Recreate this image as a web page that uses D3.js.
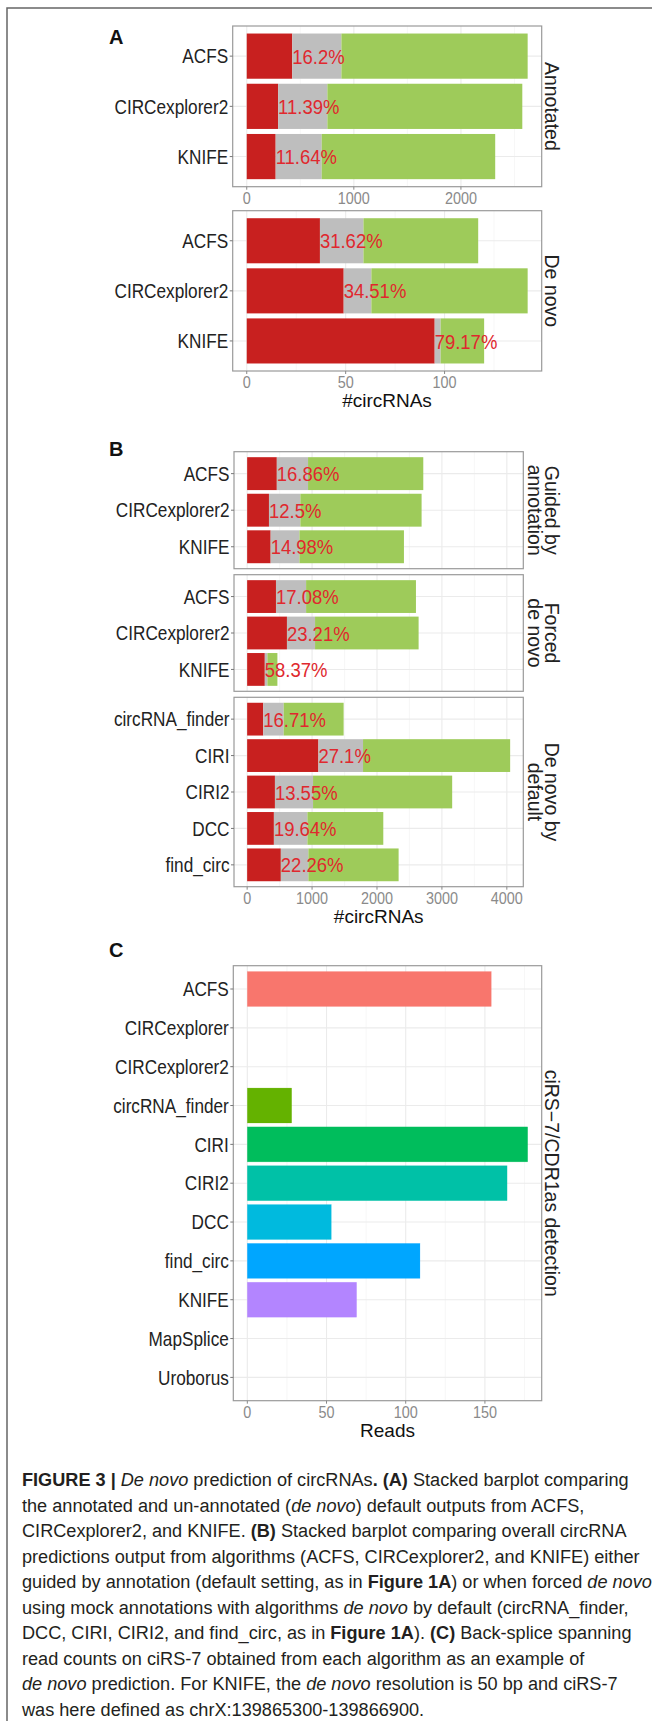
<!DOCTYPE html>
<html>
<head>
<meta charset="utf-8">
<script src="https://cdn.jsdelivr.net/npm/d3@7"></script>
<style>
  body { margin: 0; background: #fff; }
  svg { display: block; font-family: "Liberation Sans", Arial, sans-serif; }
  text { white-space: pre; }
</style>
</head>
<body>
<script>
// ---------- data ----------
const toolsA = ['ACFS', 'CIRCexplorer2', 'KNIFE'];

const annotRed = [425, 293, 270];
const annotGrey = [459, 460, 430];
const annotGreen = [1739, 1820, 1620];
const annotPct = ['16.2%', '11.39%', '11.64%'];

const denovoRed = [37, 49, 95];
const denovoGrey = [22, 14, 3];
const denovoGreen = [58, 79, 22];
const denovoPct = ['31.62%', '34.51%', '79.17%'];

const guidedRed = [457, 336, 362];
const guidedGrey = [481, 484, 443];
const guidedGreen = [1775, 1867, 1610];
const guidedPct = ['16.86%', '12.5%', '14.98%'];

const forcedRed = [444, 613, 272];
const forcedGrey = [464, 433, 40];
const forcedGreen = [1692, 1595, 154];
const forcedPct = ['17.08%', '23.21%', '58.37%'];

const toolsDefault = ['circRNA_finder', 'CIRI', 'CIRI2', 'DCC', 'find_circ'];
const defaultRed = [248, 1098, 428, 412, 519];
const defaultGrey = [315, 687, 587, 516, 424];
const defaultGreen = [923, 2266, 2143, 1169, 1390];
const defaultPct = ['16.71%', '27.1%', '13.55%', '19.64%', '22.26%'];

const toolsC = ['ACFS', 'CIRCexplorer', 'CIRCexplorer2', 'circRNA_finder', 'CIRI', 'CIRI2',
  'DCC', 'find_circ', 'KNIFE', 'MapSplice', 'Uroborus'];
const readsC = [154, 0, 0, 28, 177, 164, 53, 109, 69, 0, 0];

const ticksAnnot = [0, 1000, 2000];
const ticksDenovo = [0, 50, 100];
const ticksB = [0, 1000, 2000, 3000, 4000];
const ticksC = [0, 50, 100, 150];

const captionLines = [
  [['FIGURE 3 | ', 'b'], ['De novo', 'i'], [' prediction of circRNAs', ''], ['. (A)', 'b'], [' Stacked barplot comparing', '']],
  [['the annotated and un-annotated (', ''], ['de novo', 'i'], [') default outputs from ACFS,', '']],
  [['CIRCexplorer2, and KNIFE. ', ''], ['(B)', 'b'], [' Stacked barplot comparing overall circRNA', '']],
  [['predictions output from algorithms (ACFS, CIRCexplorer2, and KNIFE) either', '']],
  [['guided by annotation (default setting, as in ', ''], ['Figure 1A', 'b'], [') or when forced ', ''], ['de novo', 'i']],
  [['using mock annotations with algorithms ', ''], ['de novo', 'i'], [' by default (circRNA_finder,', '']],
  [['DCC, CIRI, CIRI2, and find_circ, as in ', ''], ['Figure 1A', 'b'], ['). ', ''], ['(C)', 'b'], [' Back-splice spanning', '']],
  [['read counts on ciRS-7 obtained from each algorithm as an example of', '']],
  [['de novo', 'i'], [' prediction. For KNIFE, the ', ''], ['de novo', 'i'], [' resolution is 50 bp and ciRS-7', '']],
  [['was here defined as chrX:139865300-139866900.', '']]
];

// ---------- styles ----------
const segColor = { red: '#c8201f', grey: '#bebebe', green: '#9ecb5a' };
const hueColors = ['#F8766D', '#DB8E00', '#AEA200', '#64B200', '#00BD5C', '#00C1A7',
  '#00BADE', '#00A6FF', '#B385FF', '#EF67EB', '#FF63B6'];
const borderColor = '#9a9a9a';

const svg = d3.select('body').append('svg')
  .attr('width', 652)
  .attr('height', 1721);

// outer frame
svg.append('path')
  .attr('d', 'M7,1725 L7,8 L656,8')
  .attr('fill', 'none')
  .attr('stroke', '#666')
  .attr('stroke-width', 1.5);

function makeX(max, left, right) {
  return d3.scaleLinear().domain([-0.05 * max, 1.05 * max]).range([left, right]);
}

function makeY(tools, top, bottom) {
  return d3.scaleBand().domain(tools).range([top, bottom]).paddingInner(0.1).paddingOuter(0.15);
}

function drawGrid(g, x, y, ticks) {
  const [d0, d1] = x.domain();
  const [top, bottom] = y.range();
  const step = ticks[1] - ticks[0];
  const minor = [ticks[0] - step / 2].concat(ticks.map(t => t + step / 2))
    .filter(t => t > d0 && t < d1);
  g.selectAll(null).data(minor).join('line')
    .attr('x1', d => x(d)).attr('x2', d => x(d))
    .attr('y1', top).attr('y2', bottom)
    .attr('stroke', '#f4f4f4').attr('stroke-width', 0.7);
  g.selectAll(null).data(ticks).join('line')
    .attr('x1', d => x(d)).attr('x2', d => x(d))
    .attr('y1', top).attr('y2', bottom)
    .attr('stroke', '#ebebeb').attr('stroke-width', 1.1);
  g.selectAll(null).data(y.domain()).join('line')
    .attr('x1', x.range()[0]).attr('x2', x.range()[1])
    .attr('y1', d => y(d) + y.bandwidth() / 2).attr('y2', d => y(d) + y.bandwidth() / 2)
    .attr('stroke', '#ebebeb').attr('stroke-width', 1.1);
}

function drawYAxis(g, x, y) {
  const left = x.range()[0];
  g.selectAll(null).data(y.domain()).join('line')
    .attr('x1', left - 3).attr('x2', left)
    .attr('y1', d => y(d) + y.bandwidth() / 2).attr('y2', d => y(d) + y.bandwidth() / 2)
    .attr('stroke', '#777').attr('stroke-width', 1);
  g.selectAll(null).data(y.domain()).join('text')
    .attr('transform', d => `translate(${left - 4.5},${y(d) + y.bandwidth() / 2}) scale(0.86,1)`)
    .attr('dy', '0.36em')
    .attr('text-anchor', 'end')
    .attr('font-size', 20)
    .attr('fill', '#222')
    .text(d => d);
}

function drawXAxis(g, x, bottom, ticks) {
  g.selectAll(null).data(ticks).join('line')
    .attr('x1', d => x(d)).attr('x2', d => x(d))
    .attr('y1', bottom).attr('y2', bottom + 3)
    .attr('stroke', '#888').attr('stroke-width', 1);
  g.selectAll(null).data(ticks).join('text')
    .attr('transform', d => `translate(${x(d)},${bottom + 17}) scale(0.9,1)`)
    .attr('text-anchor', 'middle')
    .attr('font-size', 16)
    .attr('fill', '#8a8a8a')
    .text(d => d);
}

function drawBorder(g, x, y) {
  const [l, r] = x.range();
  const [t, b] = y.range();
  g.append('rect')
    .attr('x', l).attr('y', t)
    .attr('width', r - l).attr('height', b - t)
    .attr('fill', 'none')
    .attr('stroke', borderColor)
    .attr('stroke-width', 1.2);
}

function drawStrip(g, lines, baseX, cy) {
  const t = g.append('text')
    .attr('transform', `translate(${baseX},${cy}) rotate(90)`)
    .attr('text-anchor', 'middle')
    .attr('font-size', 19.5)
    .attr('fill', '#222');
  lines.forEach((s, i) => {
    t.append('tspan').attr('x', 0).attr('y', i * 17.5).text(s);
  });
}

function stackFacet(opt) {
  const g = svg.append('g');
  const y = makeY(opt.tools, opt.top, opt.bottom);
  const x = opt.x;
  const rows = opt.tools.map((tool, i) => ({
    tool: tool, red: opt.red[i], grey: opt.grey[i], green: opt.green[i], pct: opt.pct[i]
  }));
  const series = d3.stack().keys(['red', 'grey', 'green'])(rows);

  drawGrid(g, x, y, opt.ticks);

  g.selectAll(null).data(series).join('g')
    .attr('fill', d => segColor[d.key])
    .selectAll('rect').data(d => d).join('rect')
    .attr('x', d => x(d[0]))
    .attr('y', d => y(d.data.tool))
    .attr('width', d => x(d[1]) - x(d[0]))
    .attr('height', y.bandwidth());

  g.selectAll(null).data(rows).join('text')
    .attr('transform', d => `translate(${x(d.red)},${y(d.tool) + y.bandwidth() / 2}) scale(0.88,1)`)
    .attr('dy', '0.36em')
    .attr('font-size', 21)
    .attr('fill', '#e0282e')
    .text(d => d.pct);

  drawBorder(g, x, y);
  drawYAxis(g, x, y);
  if (opt.axis) drawXAxis(g, x, opt.bottom, opt.ticks);
  drawStrip(g, opt.strip, opt.stripX, (opt.top + opt.bottom) / 2);
}

function sum3(a, b, c) { return a.map((v, i) => v + b[i] + c[i]); }

function label(txt, x, yb) {
  svg.append('text')
    .attr('x', x).attr('y', yb)
    .attr('font-size', 20)
    .attr('font-weight', 'bold')
    .attr('fill', '#111')
    .text(txt);
}

function axisTitle(txt, cx, yb) {
  svg.append('text')
    .attr('x', cx).attr('y', yb)
    .attr('text-anchor', 'middle')
    .attr('font-size', 19)
    .attr('fill', '#111')
    .text(txt);
}

// ---------- panel A ----------
label('A', 109, 44);
const xAnnot = makeX(d3.max(sum3(annotRed, annotGrey, annotGreen)), 232.7, 541.7);
stackFacet({
  tools: toolsA, red: annotRed, grey: annotGrey, green: annotGreen, pct: annotPct,
  top: 26, bottom: 186.7, x: xAnnot, ticks: ticksAnnot, axis: true,
  strip: ['Annotated'], stripX: 545
});
const xDenovo = makeX(d3.max(sum3(denovoRed, denovoGrey, denovoGreen)), 232.7, 541.7);
stackFacet({
  tools: toolsA, red: denovoRed, grey: denovoGrey, green: denovoGreen, pct: denovoPct,
  top: 210.7, bottom: 371, x: xDenovo, ticks: ticksDenovo, axis: true,
  strip: ['De novo'], stripX: 545
});
axisTitle('#circRNAs', 387, 406.5);

// ---------- panel B ----------
label('B', 109, 456);
const maxB = d3.max(sum3(guidedRed, guidedGrey, guidedGreen)
  .concat(sum3(forcedRed, forcedGrey, forcedGreen))
  .concat(sum3(defaultRed, defaultGrey, defaultGreen)));
const xB = makeX(maxB, 234, 523.3);
stackFacet({
  tools: toolsA, red: guidedRed, grey: guidedGrey, green: guidedGreen, pct: guidedPct,
  top: 451.7, bottom: 568.7, x: xB, ticks: ticksB, axis: false,
  strip: ['Guided by', 'annotation'], stripX: 545
});
stackFacet({
  tools: toolsA, red: forcedRed, grey: forcedGrey, green: forcedGreen, pct: forcedPct,
  top: 574.7, bottom: 691.3, x: xB, ticks: ticksB, axis: false,
  strip: ['Forced', 'de novo'], stripX: 545
});
stackFacet({
  tools: toolsDefault, red: defaultRed, grey: defaultGrey, green: defaultGreen, pct: defaultPct,
  top: 697.3, bottom: 886.7, x: xB, ticks: ticksB, axis: true,
  strip: ['De novo by', 'default'], stripX: 545
});
axisTitle('#circRNAs', 378.7, 923);

// ---------- panel C ----------
label('C', 109, 956.7);
const gC = svg.append('g');
const xC = makeX(d3.max(readsC), 233.3, 541.7);
const yC = makeY(toolsC, 965.7, 1400.7);
drawGrid(gC, xC, yC, ticksC);
gC.selectAll(null).data(toolsC).join('rect')
  .attr('x', xC(0))
  .attr('y', d => yC(d))
  .attr('width', (d, i) => xC(readsC[i]) - xC(0))
  .attr('height', yC.bandwidth())
  .attr('fill', (d, i) => hueColors[i])
  .attr('stroke', (d, i) => hueColors[i])
  .attr('stroke-opacity', 0.35)
  .attr('stroke-width', 0.6);
drawBorder(gC, xC, yC);
drawYAxis(gC, xC, yC);
drawXAxis(gC, xC, 1400.7, ticksC);
drawStrip(gC, ['ciRS\u22127/CDR1as detection'], 545, (965.7 + 1400.7) / 2);
axisTitle('Reads', 387.5, 1436.5);

// ---------- caption ----------
const cap = svg.append('g').attr('font-size', 19).attr('fill', '#231f20');
const capNodes = captionLines.map(line => {
  const t = cap.append('text');
  line.forEach(([s, st]) => {
    t.append('tspan')
      .attr('font-weight', st === 'b' ? 'bold' : null)
      .attr('font-style', st === 'i' ? 'italic' : null)
      .text(s);
  });
  return t;
});
const capScale = 607 / capNodes[0].node().getComputedTextLength();
capNodes.forEach((t, i) => {
  t.attr('transform', `translate(22,${1486 + i * 25.5}) scale(${capScale},1)`);
});
</script>
</body>
</html>
